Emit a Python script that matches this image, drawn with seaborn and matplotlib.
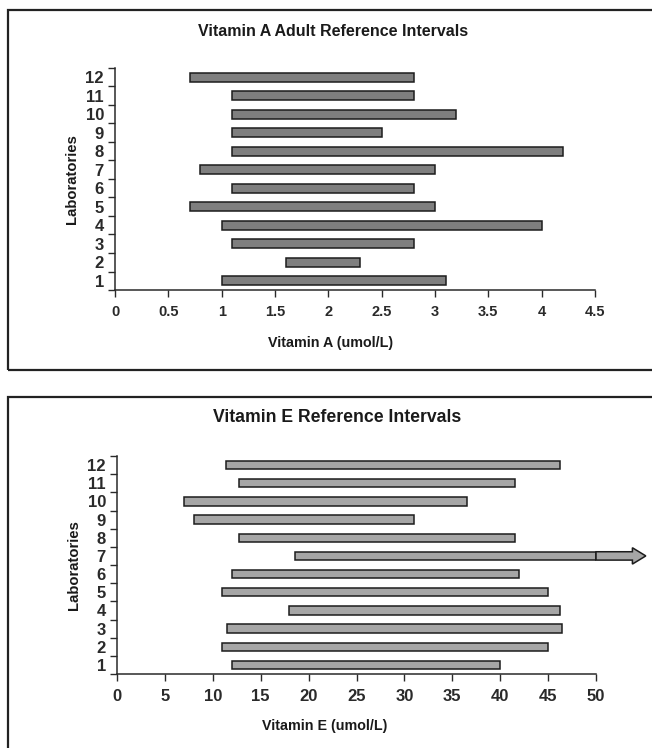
import numpy as np
import pandas as pd
import matplotlib
matplotlib.use('Agg')
import matplotlib.pyplot as plt
from matplotlib.patches import Rectangle, FancyArrow
import seaborn as sns

# ---- data ----
labs = ['12', '11', '10', '9', '8', '7', '6', '5', '4', '3', '2', '1']

vit_a_low = [0.7, 1.1, 1.1, 1.1, 1.1, 0.8, 1.1, 0.7, 1.0, 1.1, 1.6, 1.0]
vit_a_high = [2.8, 2.8, 3.2, 2.5, 4.2, 3.0, 2.8, 3.0, 4.0, 2.8, 2.3, 3.1]

vit_e_low = [11.4, 12.7, 7.0, 8.0, 12.7, 18.6, 12.0, 11.0, 18.0, 11.5, 11.0, 12.0]
vit_e_high = [46.2, 41.5, 36.5, 31.0, 41.5, 50.0, 42.0, 45.0, 46.2, 46.5, 45.0, 40.0]
vit_e_open = '7'      # upper limit beyond the axis -> drawn with an arrow
arrow_extra = 5.2     # how far the arrow runs past the axis end

sns.set_style('ticks')
plt.rcParams['font.family'] = ['Liberation Sans', 'DejaVu Sans']
plt.rcParams['font.weight'] = 'bold'
plt.rcParams['axes.labelweight'] = 'bold'
plt.rcParams['axes.edgecolor'] = '#2a2a2a'
plt.rcParams['xtick.color'] = '#2a2a2a'
plt.rcParams['ytick.color'] = '#2a2a2a'
plt.rcParams['text.color'] = '#1a1a1a'
plt.rcParams['axes.labelcolor'] = '#1a1a1a'

fig = plt.figure(figsize=(6.52, 7.48), dpi=100)

# panel frames (open on the right / bottom like the scan)
fig.add_artist(Rectangle((8 / 652, 1 - 370 / 748), 1.0, (370 - 9.5) / 748,
                         transform=fig.transFigure, fill=False, lw=1.6, ec='#222222'))
fig.add_artist(Rectangle((8 / 652, -0.05), 1.0, 0.05 + 1 - 397 / 748,
                         transform=fig.transFigure, fill=False, lw=1.6, ec='#222222'))

ax_a = fig.add_axes([115 / 652, 1 - 290 / 748, 480 / 652, 222 / 748])
ax_e = fig.add_axes([117 / 652, 1 - 674 / 748, 479 / 652, 218 / 748])


def draw_panel(ax, low, high, face, xmax, step, xlabel, xfs, yfs):
    df = pd.DataFrame({'lab': labs, 'low': low, 'span': np.subtract(high, low)})
    sns.barplot(data=df, x='span', y='lab', order=labs, orient='y',
                left=df['low'].values, color=face, edgecolor='#1c1c1c',
                linewidth=1.1, width=0.46, saturation=1, errorbar=None, ax=ax)
    ax.set_xlim(0, xmax)
    ax.set_ylim(len(labs) - 0.5, -0.5)
    ticks = np.arange(0, xmax + step / 2, step)
    ax.set_xticks(ticks)
    ax.set_xticklabels([f'{t:g}' for t in ticks], fontsize=xfs, fontweight='bold')
    ax.set_yticks(np.arange(len(labs)))
    ax.set_yticklabels(labs, fontsize=yfs, fontweight='bold')
    ax.set_yticks(np.arange(-0.5, len(labs), 1), minor=True)
    ax.tick_params(axis='y', which='major', length=0, pad=8)
    ax.tick_params(axis='y', which='minor', length=5, width=1, direction='out')
    ax.tick_params(axis='x', length=5, width=1, direction='out', pad=6)
    ax.set_xlabel(xlabel, fontsize=10.3, fontweight='bold')
    ax.set_ylabel('Laboratories', fontsize=10.7, fontweight='bold')
    ax.yaxis.set_label_coords(-0.075, 0.5)
    sns.despine(ax=ax)
    for s in ['left', 'bottom']:
        ax.spines[s].set_linewidth(1.1)


draw_panel(ax_a, vit_a_low, vit_a_high, '#7f7f7f', 4.5, 0.5,
           'Vitamin A (umol/L)', 10.5, 12)
ax_a.xaxis.set_label_coords(0.45, -0.205)

draw_panel(ax_e, vit_e_low, vit_e_high, '#a6a6a6', 50, 5,
           'Vitamin E (umol/L)', 12, 12)
ax_e.xaxis.set_label_coords(0.434, -0.207)

# open-ended interval for lab 7
pos = labs.index(vit_e_open)
xend = vit_e_high[pos]
ax_e.add_patch(FancyArrow(xend, pos, arrow_extra, 0, width=0.46, head_width=0.9,
                          head_length=1.4, length_includes_head=True,
                          fc='#a6a6a6', ec='#1c1c1c', lw=1.1, clip_on=False))

fig.text(333 / 652, 1 - 31 / 748, 'Vitamin A Adult Reference Intervals',
         ha='center', va='center', fontsize=11.5, fontweight='bold')
fig.text(337 / 652, 1 - 418 / 748, 'Vitamin E Reference Intervals',
         ha='center', va='center', fontsize=12.7, fontweight='bold')

fig.savefig('out.png', dpi=100)
